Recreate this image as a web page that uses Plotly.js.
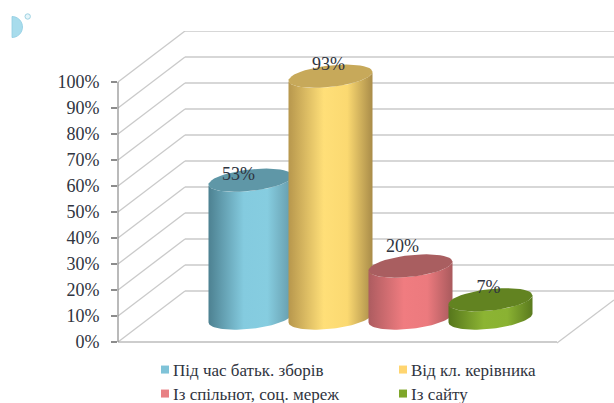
<!DOCTYPE html>
<html><head><meta charset="utf-8">
<script src="https://cdn.plot.ly/plotly-3.0.1.min.js"></script>
<style>html,body{margin:0;padding:0;background:#fff;overflow:hidden;height:403px}</style>
</head><body><div id="chart" style="width:614px;height:403px;overflow:hidden"></div>
<script>
const categories = ["Під час батьк. зборів", "Від кл. керівника", "Із спільнот, соц. мереж", "Із сайту"];
const values = [53, 93, 20, 7];
const yTicks = [0, 10, 20, 30, 40, 50, 60, 70, 80, 90, 100];

const W = 614, H = 425, L = 118, T = 31, ZERO = 342;
const pxPerUnit = 2.6;
const pxPerCat = 80;
const firstCenter = 250.5;
const xOf = p => (p - firstCenter) / pxPerCat;
const yOf = p => (ZERO - p) / pxPerUnit;
const paperX = p => (p - L) / (W - L);
const paperY = p => (H - p) / (H - T);

const baseOffset = yOf(318);
const radiusX = 42 / pxPerCat;
const radiusY = 10.8 / pxPerUnit;
const tilt = 0.105 * pxPerCat / pxPerUnit;

const sideColors = [
  ["#4d8191", "#84cbdf", "#86cde0", "#659aaa"],
  ["#b7974d", "#ffdf78", "#fbd971", "#a98c49"],
  ["#ad5c60", "#f07c80", "#ec7a7e", "#a95a5d"],
  ["#56761c", "#8cb433", "#8ab232", "#5a7a1e"]
];
const capColors = ["#5f97a7", "#c7a95a", "#a95e60", "#628321"];
const swatchColors = ["#7fc3d8", "#ffd570", "#e88084", "#7fa62a"];

function ellipsePts(i, top, from, to) {
  const xs = [], ys = [];
  for (let k = 0; k <= 48; k++) {
    const t = from + (to - from) * k / 48;
    const dx = radiusX * Math.cos(t);
    xs.push(i + dx);
    ys.push(top + radiusY * Math.sin(t) + tilt * dx);
  }
  return [xs, ys];
}

const traces = [];
values.forEach((v, i) => {
  const top = baseOffset + v;
  const [bx, by] = ellipsePts(i, baseOffset, Math.PI, 2 * Math.PI);
  const [tx, ty] = ellipsePts(i, top, 2 * Math.PI, Math.PI);
  const c = sideColors[i];
  traces.push({
    type: "scatter", mode: "lines", x: bx.concat(tx), y: by.concat(ty),
    fill: "toself", line: {width: 0}, hoverinfo: "skip", showlegend: false,
    fillgradient: {type: "horizontal", start: i - radiusX, stop: i + radiusX,
      colorscale: [[0, c[0]], [0.42, c[1]], [0.7, c[2]], [1, c[3]]]}
  });
  const [cx, cy] = ellipsePts(i, top, 0, 2 * Math.PI);
  traces.push({
    type: "scatter", mode: "lines", x: cx, y: cy,
    fill: "toself", fillcolor: capColors[i], line: {width: 0},
    hoverinfo: "skip", showlegend: false
  });
});

const labelShift = [[-12, 5], [-2, 11], [-8, 19], [-2, 11]];
traces.push({
  type: "scatter", mode: "text",
  x: values.map((v, i) => i + labelShift[i][0] / pxPerCat),
  y: values.map((v, i) => baseOffset + v + labelShift[i][1] / pxPerUnit),
  text: values.map(v => v + "%"),
  textposition: "middle center",
  textfont: {family: "Liberation Serif, serif", size: 18, color: "#2f3440"},
  hoverinfo: "skip", showlegend: false, cliponaxis: false
});

const legendKeys = ["legend", "legend2", "legend3", "legend4"];
categories.forEach((name, i) => {
  traces.push({
    type: "scatter", mode: "markers", x: [null], y: [null], name,
    marker: {symbol: "square", size: 8, color: swatchColors[i]},
    legend: legendKeys[i], hoverinfo: "skip"
  });
});

const grid = {type: "line", layer: "below", line: {color: "#cacaca", width: 1.3}};
const backRise = 51 / pxPerUnit;
const shapes = [];
yTicks.forEach(v => {
  shapes.push(Object.assign({}, grid, {xref: "paper", yref: "y", x0: 0, x1: paperX(185), y0: v, y1: v + backRise}));
  shapes.push(Object.assign({}, grid, {xref: "paper", yref: "y", x0: paperX(185), x1: 1, y0: v + backRise, y1: v + backRise}));
});
shapes.push({type: "line", layer: "below", xref: "paper", yref: "y", x0: 0, x1: paperX(557), y0: 0, y1: 0, line: {color: "#bcbcbc", width: 1.5}});
shapes.push(Object.assign({}, grid, {xref: "paper", yref: "paper", x0: paperX(557), x1: 1, y0: paperY(343), y1: paperY(300)}));
shapes.push({type: "line", layer: "below", xref: "paper", yref: "y", x0: 0, x1: 0, y0: 0, y1: 100, line: {color: "#8c8c8c", width: 1.2}});

const arc = (cx, cy, r, a0, a1) => {
  let d = "";
  for (let k = 0; k <= 24; k++) {
    const a = a0 + (a1 - a0) * k / 24;
    d += (k ? "L" : "M") + paperX(cx + r * Math.cos(a)) + "," + paperY(cy + r * Math.sin(a));
  }
  return d + "Z";
};
shapes.push({type: "path", xref: "paper", yref: "paper", layer: "above",
  path: arc(12, 27, 10.5, -Math.PI / 2, Math.PI / 2), fillcolor: "#a8dcec", line: {color: "#8fcde2", width: 0.8}});
shapes.push({type: "circle", xref: "paper", yref: "paper", layer: "above",
  x0: paperX(25), x1: paperX(30.4), y0: paperY(19.2), y1: paperY(13.8), fillcolor: "#e6f5fa", line: {color: "#9fd3e3", width: 1}});

const legendFont = {family: "Liberation Serif, serif", size: 17, color: "#2f3440"};
const legendAt = (px, py) => ({xanchor: "left", yanchor: "middle", x: paperX(px), y: paperY(py),
  bgcolor: "rgba(0,0,0,0)", font: legendFont, itemclick: false, itemdoubleclick: false});

Plotly.newPlot("chart", traces, {
  width: W, height: H, margin: {l: L, r: 0, t: T, b: 0, pad: 0, autoexpand: false},
  paper_bgcolor: "#fff", plot_bgcolor: "rgba(0,0,0,0)", showlegend: true,
  legend: legendAt(133, 370),
  legend2: legendAt(371, 370),
  legend3: legendAt(133, 394),
  legend4: legendAt(371, 394),
  xaxis: {range: [xOf(L), xOf(W)], visible: false, fixedrange: true},
  yaxis: {range: [yOf(H), yOf(T)], tickmode: "array", tickvals: yTicks, ticktext: yTicks.map(v => v + "%"),
    showgrid: false, zeroline: false, showline: false, ticks: "outside", ticklen: 6, tickwidth: 1.2, tickcolor: "#8c8c8c",
    tickfont: {family: "Liberation Serif, serif", size: 18, color: "#2f3440"}, fixedrange: true, ticklabelstandoff: 8},
  shapes
}, {displayModeBar: false, staticPlot: true}).then(() => {
  document.querySelectorAll(".legendsymbols").forEach(g => g.setAttribute("transform", "translate(12,0)"));
});
</script></body></html>
